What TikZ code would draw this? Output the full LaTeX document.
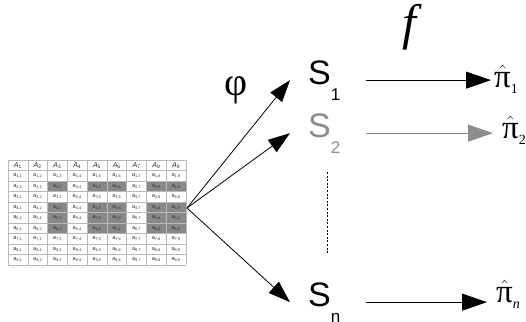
\documentclass[tikz,border=0pt]{standalone}
\usepackage{fontspec}
\usepackage{amsmath}
\setmainfont{Liberation Serif}
\newfontfamily\sansfont{Liberation Sans}
\usepackage{tikz}
\usetikzlibrary{arrows.meta, calc}

\definecolor{cellgray}{RGB}{136,136,136}
\definecolor{fadedgray}{RGB}{140,140,140}

\newcommand{\setS}[1]{{\sansfont\fontsize{34}{34}\selectfont S}\raisebox{-16pt}{\sansfont\fontsize{17}{17}\selectfont #1}}
\newcommand{\pihat}[1]{{\fontsize{33}{33}\selectfont$\hat{\mbox{π}}$}\raisebox{-6pt}{\fontsize{14}{14}\selectfont #1}}

\begin{document}
\begin{tikzpicture}[x=1pt, y=-1pt]
    \tikzset{
        gridline/.style={draw=gray!55, line width=0.4pt},
        headcell/.style={font=\sansfont\fontsize{7}{7}\selectfont, text=black!85, inner sep=0pt},
        datacell/.style={font=\sansfont\fontsize{5.6}{5.6}\selectfont, text=black!80, inner sep=0pt},
        setnode/.style={anchor=base west, inner sep=0pt},
        pinode/.style={anchor=base west, inner sep=0pt},
        maparrow/.style={-{Triangle[length=22pt, width=15pt]}, line width=0.8pt},
        farrow/.style={-{Triangle[length=25pt, width=17pt]}, line width=0.8pt}
    }
    \useasboundingbox (0,0) rectangle (526,321);

    % table of values
    \foreach \i in {2,4,5,6}
        \foreach \j in {3,5,6,8,9}
            \fill[cellgray] ({8+(\j-1)*19.78},{160+\i*10.5}) rectangle ++(19.78,10.5);
    \foreach \j in {1,...,9}
        \node[headcell] (h\j) at ({8+(\j-0.5)*19.78}, 165.25) {\textit{A}\textsubscript{\j}};
    \foreach \i in {1,...,9}
        \foreach \j in {1,...,9}
            \node[datacell] (a\i\j) at ({8+(\j-0.5)*19.78}, {160+(\i+0.5)*10.5}) {a\textsubscript{\i,\j}};
    \foreach \j in {0,...,9}
        \draw[gridline] ({8+\j*19.78},160) -- ({8+\j*19.78},265);
    \foreach \i in {0,...,10}
        \draw[gridline] (8,{160+\i*10.5}) -- (186,{160+\i*10.5});
    \coordinate (tab) at (187,208);

    % sets
    \node[setnode] (s1) at (308,84) {\setS{1}};
    \node[setnode, text=fadedgray] (s2) at (308,137) {\setS{2}};
    \node[setnode] (sn) at (308,306) {\setS{n}};
    \coordinate (dtop) at (327,172);
    \coordinate (dbot) at (327,253);
    \draw[line width=0.6pt, dash pattern=on 2pt off 1.6pt] (dtop) -- (dbot);

    % estimates
    \node[pinode] (p1) at (494,87) {\pihat{1}};
    \node[pinode] (p2) at (502,138) {\pihat{2}};
    \node[pinode] (pn) at (496,302) {\pihat{\textit{n}}};

    % labels
    \node[font=\fontsize{40}{40}\selectfont, inner sep=0pt] (phi) at (236,90) {φ};
    \node[font=\fontsize{50}{50}\selectfont\itshape, anchor=base, inner sep=0pt] (f) at (409,39) {f};

    % phi arrows
    \draw[maparrow] (tab) -- ([xshift=-18pt]s1.west);
    \draw[maparrow] (tab) -- ([xshift=-18pt]s2.west);
    \draw[maparrow] (tab) -- ([xshift=-18pt]sn.west);

    % f arrows
    \draw[farrow] ([xshift=25pt]s1.east) -- ([xshift=-3pt]s1.east -| p1.west);
    \draw[farrow, fadedgray] ([xshift=25pt]s2.east) -- ([xshift=-9pt]s2.east -| p2.west);
    \draw[farrow] ([xshift=25pt]sn.east) -- ([xshift=-9pt]sn.east -| pn.west);
\end{tikzpicture}
\end{document}
